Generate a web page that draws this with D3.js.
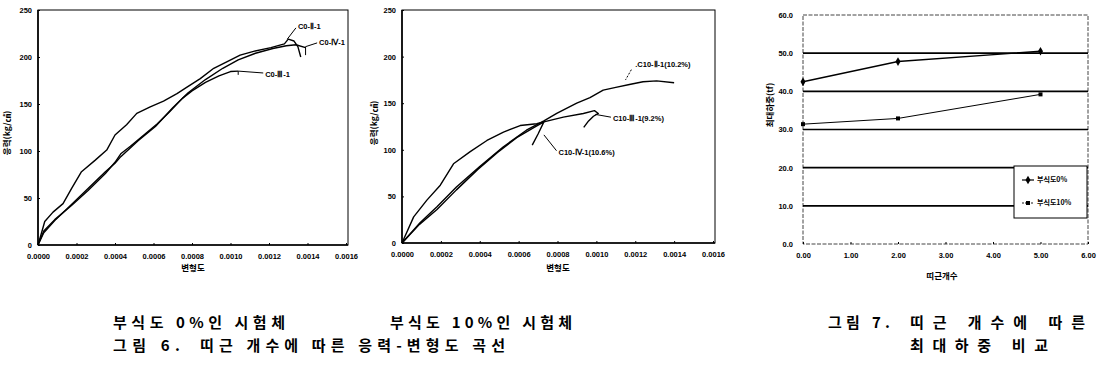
<!DOCTYPE html>
<html><head><meta charset="utf-8">
<script src="https://cdn.jsdelivr.net/npm/d3@7"></script>
<style>
body{margin:0;background:#fff;}
svg{display:block;}
.tick text{font-family:"Liberation Sans Narrow","Liberation Sans",Arial,sans-serif;font-weight:bold;font-size:7.5px;fill:#000;}
.lbl{font-family:"Liberation Sans Narrow","Liberation Sans",Arial,sans-serif;font-weight:bold;font-size:7.5px;fill:#000;}
.ttl{font-family:"Noto Sans CJK KR",sans-serif;font-weight:bold;font-size:8.5px;fill:#000;}
.cap{font-family:"Noto Sans CJK KR",sans-serif;font-weight:bold;font-size:15px;fill:#000;}
</style></head><body>
<svg id="c" width="1098" height="370"></svg>
<script>
// ---------- data ----------
// strain values in units of 1e-4
const strainTicks = [0,2,4,6,8,10,12,14,16];
const strainTickLabels = ["0.0000","0.0002","0.0004","0.0006","0.0008","0.0010","0.0012","0.0014","0.0016"];
const stressTicks = [0,50,100,150,200,250];

// Fig 6 left: corrosion 0%
const c0_II_strain = [0,0.17,0.35,0.78,1.3,1.74,2.26,2.96,3.57,4.0,4.6,5.13,5.83,6.52,7.22,7.74,8.43,9.13,9.83,10.5,11.2,12.1,12.8,13.0,13.3,13.5,13.65];
const c0_II_stress = [0,12,25,35,44,60,78,90,101,117,128,140,147,153,161,168,177,188,195,202,206,210,214,219,217,211,200];
const c0_IV_strain = [0,0.3,0.87,1.74,2.6,3.5,4.0,4.3,5.2,6.1,7.0,7.8,8.7,9.6,10.4,11.3,12.2,12.9,13.4,13.9];
const c0_IV_stress = [0,13,26,43,60,78,87,94,111,126,146,162,176,188,197,204,209,212,213,210];
const c0_III_strain = [0,0.3,0.87,1.74,2.6,3.5,4.0,4.3,4.8,5.5,6.2,6.8,7.5,8.0,8.7,9.4,10.0,10.4];
const c0_III_stress = [0,15,27,42,58,76,88,97,105,117,129,141,156,164,173,180,184.5,185];

// Fig 6 middle: corrosion 10%
const c10_II_strain = [0,0.94,1.8,2.8,4.0,5.2,6.4,7.3,7.96,8.99,9.67,10.35,11.0,11.7,12.4,13.1,14.0];
const c10_II_stress = [0,22,39,60,82,103,121,131,139,150,156,164,167,170,173,174,172];
const c10_III_strain = [0,0.6,1.28,1.97,2.65,3.51,4.37,5.22,6.08,6.93,7.3,8.3,9.33,9.9,10.1,9.85,9.6,9.35];
const c10_III_stress = [0,28,46,62,85,98,110,119,126,128,130,135,139,142,139,136,131,124];
const c10_IV_strain = [0,0.9,1.8,2.8,3.9,4.9,5.9,6.8,7.3,7.0,6.7];
const c10_IV_stress = [0,20,36,57,79,97,113,124,130,117,105];

// Fig 7: max load vs tie count
const tieCounts = [0,2,5];
const maxLoad0 = [42.5,47.8,50.5];
const maxLoad10 = [31.4,32.9,39.2];
const loadTicks = [0,10,20,30,40,50,60];
const loadTickLabels = ["0.0","10.0","20.0","30.0","40.0","50.0","60.0"];
const tieTicks = [0,1,2,3,4,5,6];
const tieTickLabels = ["0.00","1.00","2.00","3.00","4.00","5.00","6.00"];
const legendNames = ["부식도0%","부식도10%"];

// curve labels: [text, label strain, label stress, leader pts...]
const leftLabels = [
  ["C0-Ⅱ-1", 13.5, 233, [[13.4,231],[12.95,219]]],
  ["C0-Ⅳ-1", 14.6, 216, [[14.5,215],[13.9,211],[13.9,202]]],
  ["C0-Ⅲ-1", 11.8, 182, [[11.7,183],[10.4,185],[10.4,181]]]
];
const midLabels = [
  [".C10-Ⅱ-1(10.2%)", 12.0, 192, [[11.8,186],[11.5,175]]],
  ["C10-Ⅲ-1(9.2%)", 10.85, 134, [[10.75,135],[9.95,138]]],
  ["C10-Ⅳ-1(10.6%)", 8.05, 97, [[7.95,99],[7.3,116]]]
];

const svg = d3.select("#c");

function strainPanel(cfg){
  const x = d3.scaleLinear().domain([0,16]).range([cfg.x0,cfg.x1]);
  const y = d3.scaleLinear().domain([0,250]).range([cfg.yb,cfg.yt]);
  const g = svg.append("g");
  g.append("rect").attr("x",cfg.x0).attr("y",cfg.yt).attr("width",cfg.x1-cfg.x0+2).attr("height",cfg.yb-cfg.yt)
    .attr("fill","none").attr("stroke","#000").attr("stroke-width",1);
  g.append("line").attr("x1",cfg.x0).attr("x2",cfg.x0).attr("y1",cfg.yt).attr("y2",cfg.yb).attr("stroke","#000").attr("stroke-width",1.6);
  g.append("line").attr("x1",cfg.x0).attr("x2",cfg.x1+2).attr("y1",cfg.yb).attr("y2",cfg.yb).attr("stroke","#000").attr("stroke-width",1.6);
  const ax = g.append("g").attr("transform",`translate(0,${cfg.yb})`)
    .call(d3.axisBottom(x).tickValues(strainTicks).tickFormat((d,i)=>strainTickLabels[i]).tickSizeInner(-2).tickSizeOuter(0).tickPadding(9));
  ax.select(".domain").remove();
  const ay = g.append("g").attr("transform",`translate(${cfg.x0},0)`)
    .call(d3.axisLeft(y).tickValues(stressTicks).tickFormat(d3.format("d")).tickSizeInner(-2).tickSizeOuter(0).tickPadding(6));
  ay.select(".domain").remove();
  g.append("text").attr("class","ttl").attr("x",cfg.xt).attr("y",271).attr("text-anchor","middle").text("변형도");
  g.append("text").attr("class","ttl").attr("transform",`translate(${cfg.yx},${cfg.yy}) rotate(-90)`).attr("text-anchor","middle").text("응력(kg/㎠)");
  const line = d3.line().x(d=>x(d[0])).y(d=>y(d[1]));
  cfg.curves.forEach(c=>{
    const pts = c[0].map((s,i)=>[s,c[1][i]]);
    g.append("path").attr("d",line(pts)).attr("fill","none").attr("stroke","#000").attr("stroke-width",1.4).attr("stroke-linejoin","round");
  });
  cfg.labels.forEach(l=>{
    g.append("path").attr("d",line(l[3])).attr("fill","none").attr("stroke","#000").attr("stroke-width",1)
      .attr("stroke-dasharray", l[0].startsWith(".")?"2,1.5":null);
    g.append("text").attr("class","lbl").attr("x",x(l[1])).attr("y",y(l[2])).attr("dy","0.35em").text(l[0]);
  });
}

strainPanel({x0:38,x1:346,yt:10,yb:245,xt:193,yx:10,yy:133,
  curves:[[c0_II_strain,c0_II_stress],[c0_IV_strain,c0_IV_stress],[c0_III_strain,c0_III_stress]],
  labels:leftLabels});
strainPanel({x0:402,x1:713,yt:10,yb:243,xt:558,yx:377,yy:123,
  curves:[[c10_II_strain,c10_II_stress],[c10_III_strain,c10_III_stress],[c10_IV_strain,c10_IV_stress]],
  labels:midLabels});

// ---------- Fig 7 ----------
(function(){
  const x0=803,x1=1088,yt=15,yb=244;
  const x = d3.scaleLinear().domain([0,6]).range([x0,x1]);
  const y = d3.scaleLinear().domain([0,60]).range([yb,yt]);
  const g = svg.append("g");
  g.append("rect").attr("x",x0).attr("y",yt).attr("width",x1-x0).attr("height",yb-yt)
    .attr("fill","none").attr("stroke","#444").attr("stroke-width",1).attr("stroke-dasharray","4,1.5");
  g.selectAll(".grid").data(loadTicks.filter(d=>d>0 && d<60)).join("line")
    .attr("x1",x0).attr("x2",x1).attr("y1",d=>y(d)).attr("y2",d=>y(d)).attr("stroke","#000").attr("stroke-width",1.7);
  const ax = g.append("g").attr("transform",`translate(0,${yb})`)
    .call(d3.axisBottom(x).tickValues(tieTicks).tickFormat((d,i)=>tieTickLabels[i]).tickSizeInner(-2).tickSizeOuter(0).tickPadding(9));
  ax.select(".domain").remove();
  const ay = g.append("g").attr("transform",`translate(${x0},0)`)
    .call(d3.axisLeft(y).tickValues(loadTicks).tickFormat((d,i)=>loadTickLabels[i]).tickSize(0).tickPadding(10));
  ay.select(".domain").remove();
  g.append("text").attr("class","ttl").attr("x",942).attr("y",279).attr("text-anchor","middle").text("띠근개수");
  g.append("text").attr("class","ttl").attr("transform","translate(773,105) rotate(-90)").attr("text-anchor","middle").text("최대하중(tf)");
  const line = d3.line().x(d=>x(d[0])).y(d=>y(d[1]));
  const s0 = tieCounts.map((t,i)=>[t,maxLoad0[i]]);
  const s1 = tieCounts.map((t,i)=>[t,maxLoad10[i]]);
  g.append("path").attr("d",line(s0)).attr("fill","none").attr("stroke","#000").attr("stroke-width",1.4);
  g.append("path").attr("d",line(s1)).attr("fill","none").attr("stroke","#000").attr("stroke-width",1);
  const diamond = d3.symbol().type(d3.symbolDiamond).size(22);
  const square = d3.symbol().type(d3.symbolSquare).size(16);
  g.selectAll(".m0").data(s0).join("path").attr("d",diamond).attr("transform",d=>`translate(${x(d[0])},${y(d[1])})`).attr("fill","#000");
  g.selectAll(".m1").data(s1).join("path").attr("d",square).attr("transform",d=>`translate(${x(d[0])},${y(d[1])})`).attr("fill","#000");
  // legend
  const lg = g.append("g");
  lg.append("rect").attr("x",1014).attr("y",166).attr("width",73).attr("height",52).attr("fill","#fff").attr("stroke","#000").attr("stroke-width",1);
  [[diamond,180],[square,203]].forEach((m,i)=>{
    lg.append("line").attr("x1",1022).attr("x2",1034).attr("y1",m[1]).attr("y2",m[1]).attr("stroke","#000").attr("stroke-width",i?0.9:1.2)
      .attr("stroke-dasharray",i?"2,1":null);
    lg.append("path").attr("d",m[0]).attr("transform",`translate(1028,${m[1]})`).attr("fill","#000");
    lg.append("text").attr("class","ttl").style("font-size","7px").attr("x",1037).attr("y",m[1]).attr("dy","0.35em").text(legendNames[i]);
  });
})();

// ---------- captions ----------
const captions = [
  ["부식도 0%인 시험체",113,328,172],
  ["부식도 10%인 시험체",390,328,182],
  ["그림 6.",113,351,67],
  ["띠근 개수에 따른 응력-변형도 곡선",200,351,305],
  ["그림 7.",828,328,62],
  ["띠근 개수에 따른",910,328,175],
  ["최대하중 비교",910,351,138]
];
svg.selectAll(".cap").data(captions).join("text").attr("class","cap")
  .attr("x",d=>d[1]).attr("y",d=>d[2]).attr("textLength",d=>d[3]).attr("lengthAdjust","spacing").text(d=>d[0]);
</script>
</body></html>
